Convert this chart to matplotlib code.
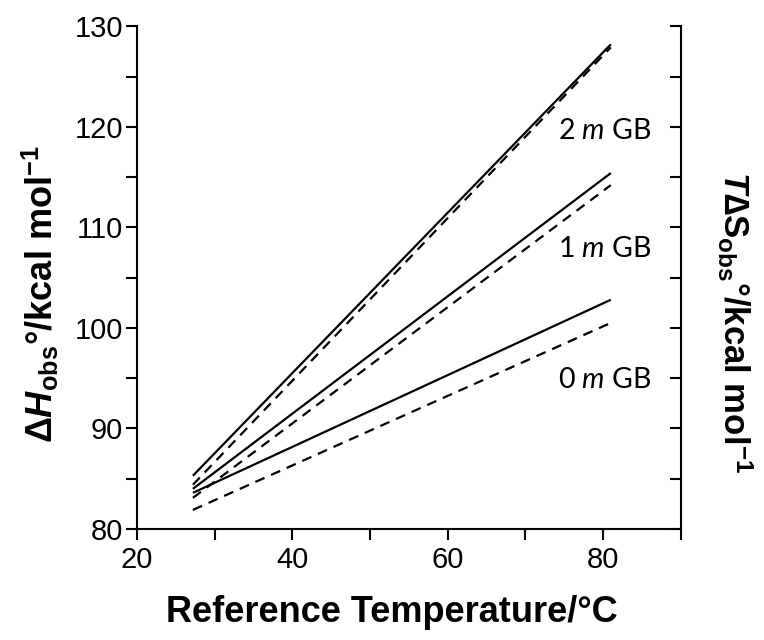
import matplotlib
matplotlib.use("Agg")
import matplotlib.pyplot as plt
from matplotlib.ticker import MultipleLocator

plt.rcParams['font.family'] = ['Liberation Sans', 'DejaVu Sans']
plt.rcParams['mathtext.fontset'] = 'custom'
plt.rcParams['mathtext.rm'] = 'Liberation Sans:bold'
plt.rcParams['mathtext.bf'] = 'Liberation Sans:bold:italic'
plt.rcParams['mathtext.it'] = 'Lato:italic'

# Data (endpoints of linear fits)
temps = [27.2, 81.0]
dH_0m = [83.6, 102.8]
dH_1m = [84.0, 115.4]
dH_2m = [85.3, 128.2]
TdS_0m = [81.9, 100.5]
TdS_1m = [83.1, 114.2]
TdS_2m = [84.4, 127.9]
labels = ["0 $m$ GB", "1 $m$ GB", "2 $m$ GB"]
label_pos_x = [80.2, 80.2, 80.2]
label_pos_y = [94.8, 107.8, 119.6]

fig = plt.figure(figsize=(7.64, 6.40), dpi=100)
ax = fig.add_axes([0.1793, 0.1734, 0.7117, 0.7856])

lw = 1.6
for y in (dH_0m, dH_1m, dH_2m):
    ax.plot(temps, y, color='black', lw=lw, solid_capstyle='butt')
for y in (TdS_0m, TdS_1m, TdS_2m):
    ln, = ax.plot(temps, y, color='black', lw=lw)
    ln.set_dashes([4.5, 3.2])

for t, x, y in zip(labels, label_pos_x, label_pos_y):
    ax.text(x, y, t, ha='center', va='center', fontsize=20.5, family='Lato')

ax.set_xlim(20, 90)
ax.set_ylim(80, 130)
ax.xaxis.set_major_locator(MultipleLocator(20))
ax.xaxis.set_minor_locator(MultipleLocator(10))
ax.yaxis.set_major_locator(MultipleLocator(10))
ax.yaxis.set_minor_locator(MultipleLocator(5))

for s in ('left', 'right', 'bottom'):
    ax.spines[s].set_linewidth(1.5)
ax.spines['top'].set_visible(False)

ax.tick_params(axis='both', which='both', direction='out', length=8, width=1.5,
               labelsize=21, pad=4)
ax.tick_params(axis='y', which='both', right=True, labelright=False, pad=2)

# right-side ticks point inward
for tick in ax.yaxis.get_major_ticks() + ax.yaxis.get_minor_ticks():
    tick.tick2line.set_marker(matplotlib.lines.TICKLEFT)

fig.text(392 / 764, 1 - 613 / 640, "Reference Temperature/°C",
         ha='center', va='center', fontsize=26, fontweight='bold')
fig.text(41 / 764, 1 - 294 / 640,
         "Δ$\\mathbf{H}_{\\mathrm{obs}}$°/kcal mol$^{\\mathrm{-1}}$",
         rotation=90, ha='center', va='center', fontsize=26, fontweight='bold')
fig.text(735 / 764, 1 - 322 / 640,
         "$\\mathbf{T}$∆$\\mathrm{S}_{\\mathrm{obs}}$°/kcal mol$^{\\mathrm{-1}}$",
         rotation=-90, ha='center', va='center', fontsize=25, fontweight='bold')

fig.savefig("out.png", dpi=100)
